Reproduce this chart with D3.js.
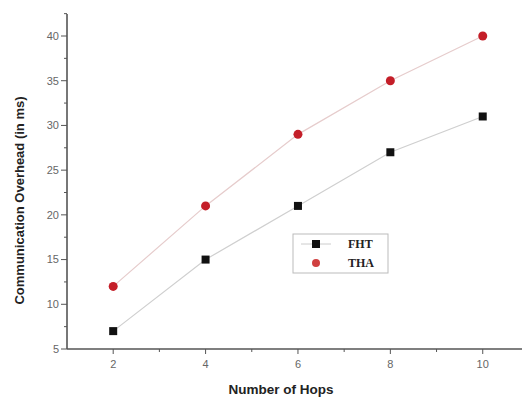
<!DOCTYPE html>
<html>
<head>
<meta charset="utf-8">
<script src="https://cdn.jsdelivr.net/npm/d3@7"></script>
<style>
  body { margin: 0; background: #fff; }
  svg { display: block; font-family: "Liberation Sans", Arial, sans-serif; }
</style>
</head>
<body>
<div id="chart"></div>
<script>
const hops = [2, 4, 6, 8, 10];
const fht = [7, 15, 21, 27, 31];
const tha = [12, 21, 29, 35, 40];
const xTicks = [2, 4, 6, 8, 10];
const yTicks = [5, 10, 15, 20, 25, 30, 35, 40];
const seriesNames = ["FHT", "THA"];

const width = 523, height = 399;
const margin = { top: 14, right: 1, bottom: 50, left: 67 };

const x = d3.scaleLinear().domain([1, 10.85]).range([margin.left, width - margin.right]);
const y = d3.scaleLinear().domain([5, 40]).range([349, 36]);

const svg = d3.select("#chart").append("svg")
  .attr("width", width).attr("height", height);

// x axis
const gX = svg.append("g").attr("transform", `translate(0,${y(5)})`);
gX.append("line").attr("x1", margin.left).attr("x2", width - margin.right)
  .attr("stroke", "#555").attr("stroke-width", 1.6);
gX.selectAll(".major").data(xTicks).join("line")
  .attr("x1", d => x(d)).attr("x2", d => x(d)).attr("y1", 0).attr("y2", 5)
  .attr("stroke", "#555");
gX.selectAll(".minor").data([3, 5, 7, 9]).join("line")
  .attr("x1", d => x(d)).attr("x2", d => x(d)).attr("y1", 0).attr("y2", 3)
  .attr("stroke", "#555");
gX.selectAll("text").data(xTicks).join("text")
  .attr("x", d => x(d)).attr("y", 19).attr("text-anchor", "middle")
  .attr("font-size", 11).attr("fill", "#666").text(d => d);

// y axis
const gY = svg.append("g").attr("transform", `translate(${margin.left},0)`);
gY.append("line").attr("y1", margin.top).attr("y2", y(5))
  .attr("stroke", "#555").attr("stroke-width", 1.6);
gY.selectAll(".major").data(yTicks).join("line")
  .attr("y1", d => y(d)).attr("y2", d => y(d)).attr("x1", 0).attr("x2", -6)
  .attr("stroke", "#555");
gY.selectAll(".minor").data(d3.range(7.5, 42.6, 5)).join("line")
  .attr("y1", d => y(d)).attr("y2", d => y(d)).attr("x1", 0).attr("x2", -3)
  .attr("stroke", "#555");
gY.selectAll("text").data(yTicks).join("text")
  .attr("x", -8).attr("y", d => y(d)).attr("dy", "0.35em").attr("text-anchor", "end")
  .attr("font-size", 11).attr("fill", "#666").text(d => d);

// axis titles
svg.append("text").attr("x", 281).attr("y", 394).attr("text-anchor", "middle")
  .attr("font-size", 13.5).attr("font-weight", "bold").attr("fill", "#222")
  .text("Number of Hops");
svg.append("text")
  .attr("transform", `translate(24,${(y(5) + y(40)) / 2 + 8}) rotate(-90)`)
  .attr("text-anchor", "middle").attr("font-size", 13).attr("font-weight", "bold")
  .attr("fill", "#222").text("Communication Overhead (in ms)");

// lines
const line = d3.line().x((d, i) => x(hops[i])).y(d => y(d));
svg.append("path").datum(fht).attr("d", line).attr("fill", "none")
  .attr("stroke", "#cfcfcf").attr("stroke-width", 1.2);
svg.append("path").datum(tha).attr("d", line).attr("fill", "none")
  .attr("stroke", "#e6cccc").attr("stroke-width", 1.2);

// markers
svg.selectAll(".sq").data(fht).join("rect")
  .attr("x", (d, i) => x(hops[i]) - 4).attr("y", d => y(d) - 4)
  .attr("width", 8).attr("height", 8).attr("fill", "#111");
svg.selectAll(".ci").data(tha).join("circle")
  .attr("cx", (d, i) => x(hops[i])).attr("cy", d => y(d)).attr("r", 4.5)
  .attr("fill", "#c41e28");

// legend
const lg = svg.append("g").attr("transform", "translate(293,234)");
lg.append("rect").attr("width", 95).attr("height", 39).attr("fill", "#fff")
  .attr("stroke", "#bbb");
lg.append("line").attr("x1", 8).attr("x2", 38).attr("y1", 10).attr("y2", 10)
  .attr("stroke", "#ccc");
lg.append("rect").attr("x", 19).attr("y", 6).attr("width", 8).attr("height", 8).attr("fill", "#111");
lg.append("circle").attr("cx", 23).attr("cy", 29).attr("r", 4).attr("fill", "#d04040");
lg.selectAll(".lt").data(seriesNames).join("text")
  .attr("x", 55).attr("y", (d, i) => 14 + i * 19)
  .attr("font-family", "'Liberation Serif', 'Times New Roman', serif")
  .attr("font-size", 12).attr("font-weight", "bold").attr("fill", "#222")
  .text(d => d);
</script>
</body>
</html>
